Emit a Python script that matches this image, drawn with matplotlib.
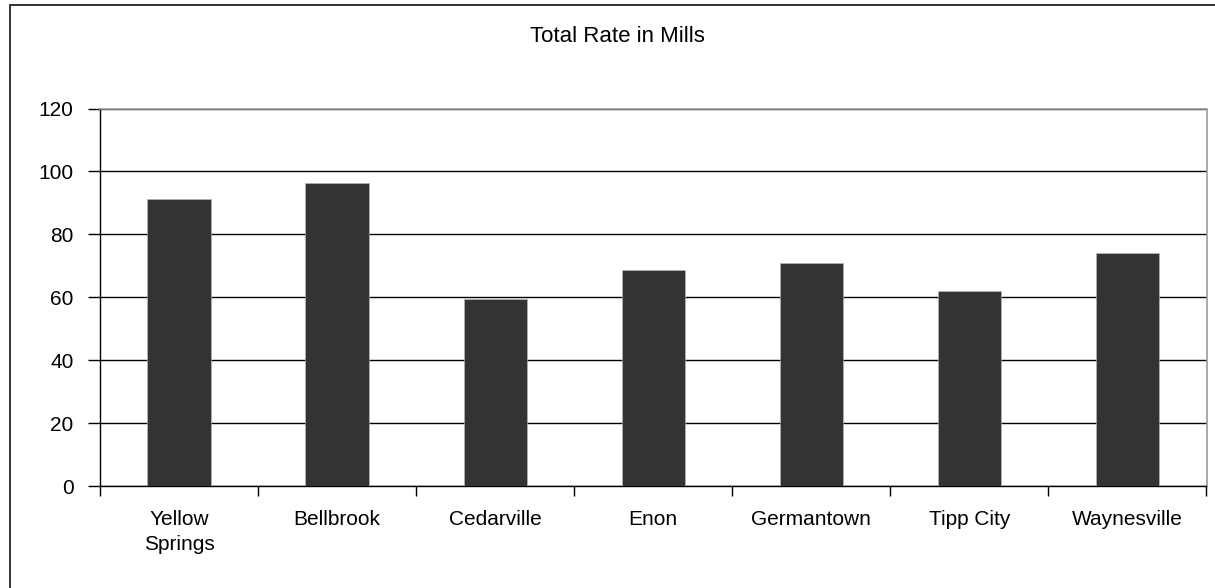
import matplotlib
matplotlib.use("Agg")
import matplotlib.pyplot as plt
from matplotlib.patches import Rectangle
import numpy as np

plt.rcParams['font.family'] = ['Liberation Sans', 'DejaVu Sans']

title = "Total Rate in Mills"
categories = ["Yellow\nSprings", "Bellbrook", "Cedarville", "Enon",
              "Germantown", "Tipp City", "Waynesville"]
rates = [91.2, 96.2, 59.3, 68.6, 70.9, 62.0, 74.2]
y_ticks = [0, 20, 40, 60, 80, 100, 120]

W, H, DPI = 1215, 588, 100
fig = plt.figure(figsize=(W / DPI, H / DPI), dpi=DPI)
ax = fig.add_axes([100 / W, 1 - 486 / H, (1206.5 - 100) / W, (486 - 108.5) / H])

x = np.arange(len(categories))
ax.bar(x, rates, width=0.4, color="#333333", edgecolor="#bbbbbb",
       linewidth=0.4, zorder=3)

ax.set_xlim(-0.5, len(categories) - 0.5)
ax.set_ylim(0, 120)
ax.set_yticks(y_ticks)
ax.set_yticklabels([str(v) for v in y_ticks])
ax.yaxis.grid(True, color="black", linewidth=1.0, zorder=1)
ax.set_axisbelow(True)

# category labels at bar centres, tick marks at category boundaries
ax.set_xticks(x)
ax.set_xticklabels(categories, linespacing=1.45)
ax.set_xticks(np.arange(len(categories) + 1) - 0.5, minor=True)
ax.tick_params(axis="x", which="major", length=0, pad=17, labelsize=15)
ax.tick_params(axis="x", which="minor", length=7, width=1, color="black",
               direction="out")
ax.tick_params(axis="y", length=9, width=1, color="black", direction="out",
               pad=10, labelsize=15)

for side in ("left", "bottom"):
    ax.spines[side].set_color("black")
    ax.spines[side].set_linewidth(1.0)
for side in ("top", "right"):
    ax.spines[side].set_color("#999999")
    ax.spines[side].set_linewidth(1.2)

fig.text(617 / W, 1 - 36 / H, title, ha="center", va="center", fontsize=16)

# outer chart frame
frame = Rectangle((10 / W, -0.05), 1.2, 1 - 5 / H + 0.05,
                  transform=fig.transFigure, fill=False,
                  edgecolor="#333333", linewidth=1.4, clip_on=False)
fig.patches.append(frame)

fig.savefig("out.png", dpi=DPI)
